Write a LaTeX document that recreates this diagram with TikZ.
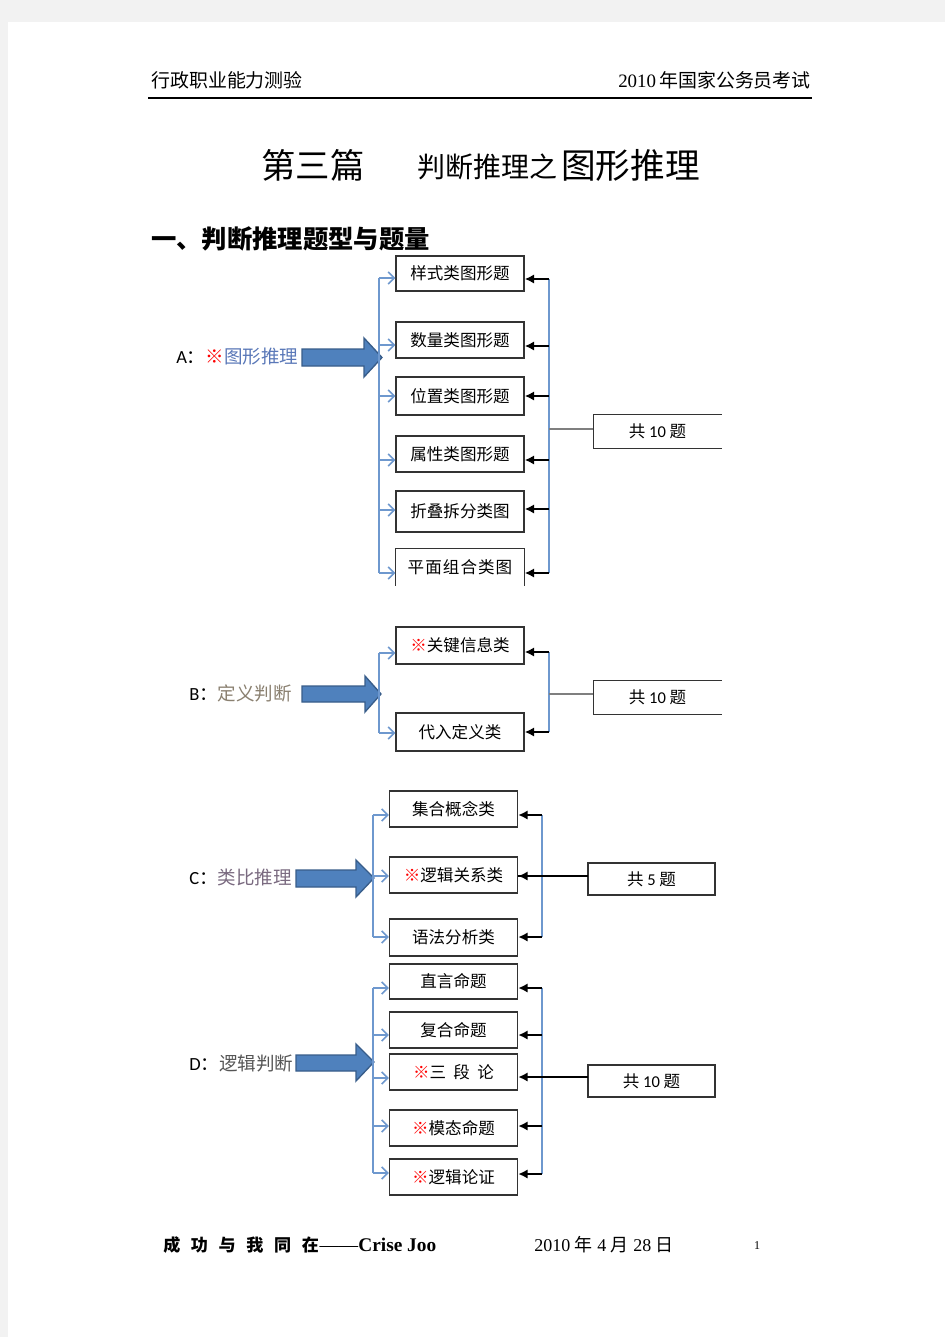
\documentclass[tikz,border=0pt]{standalone}
\usepackage{fontspec}
\setmainfont{Liberation Serif}[BoldFont={Liberation Serif Bold}]
\newfontfamily\cjk{Noto Sans CJK SC}
\newfontfamily\lat{Carlito}
\usetikzlibrary{arrows.meta}
\definecolor{pagegray}{HTML}{F2F2F2}
\definecolor{arrowblue}{HTML}{4F81BD}
\definecolor{arrowdark}{HTML}{385D8A}
\definecolor{blueline}{HTML}{6E98CE}
\definecolor{glinec}{HTML}{7F7F7F}
\definecolor{labA}{HTML}{5A78B8}
\definecolor{labB}{HTML}{8A8070}
\definecolor{labC}{HTML}{7A6A80}
\definecolor{labD}{HTML}{555555}
\newcommand{\mk}{\textcolor{red}{※}}
\tikzset{
  boxst/.style={draw=black!80, line width=1.1pt, inner sep=0pt, minimum width=96pt,
    font=\cjk\fontsize{12.4}{14}\selectfont},
  boxline/.style={draw=black!80, line width=1.1pt},
  barr/.style={draw=blueline, line width=1.1pt, -{Straight Barb[length=4.5pt,width=9pt]}},
  bline/.style={draw=blueline, line width=0.9pt},
  blk/.style={draw=black, line width=1.5pt, -{Latex[length=7pt,width=7pt]}},
  gline/.style={draw=glinec, line width=1.3pt},
  kline/.style={draw=black, line width=1.1pt},
  bigarrow/.style={fill=arrowblue, draw=arrowdark, line width=1pt, line join=miter},
  labst/.style={anchor=west, inner sep=0pt, font=\cjk\fontsize{13.9}{16}\selectfont},
  totst/.style={boxst, minimum width={127*0.75pt}, minimum height={33*0.75pt}},
}
\begin{document}
\begin{tikzpicture}[x=0.75pt,y=-0.75pt]
\useasboundingbox (0,0) rectangle (945,1337);
\fill[pagegray] (0,0) rectangle (945,1337);
\fill[white] (8,22) rectangle (945,1337);

% header
\node[anchor=west, inner sep=0pt, font=\cjk\fontsize{14.2}{16}\selectfont] (hl) at (151,80) {行政职业能力测验};
\node[anchor=east, inner sep=0pt, font=\fontsize{14.2}{16}\selectfont] (hr) at (811,80) {2010\,{\cjk 年国家公务员考试}};
\coordinate (hla) at (148,98);
\coordinate (hlb) at (812,98);
\draw[line width=0.8pt] (hla) -- (hlb);

% title
\node[anchor=west, inner sep=0pt, font=\cjk\fontsize{25.8}{30}\selectfont] (t1) at (261,165) {第三篇};
\node[anchor=west, inner sep=0pt, font=\cjk\fontsize{21}{24}\selectfont] (t2) at (417,167) {判断推理之};
\node[anchor=west, inner sep=0pt, font=\cjk\fontsize{26}{30}\selectfont] (t3) at (561,165) {图形推理};

% section heading
\node[anchor=west, inner sep=0pt, font=\cjk\bfseries\fontsize{19}{22}\selectfont] (sec) at (151,239) {一、判断推理题型与题量};

% ================= A =================
\node[labst] (la) at (176,357) {{\lat A}：\mk\textcolor{labA}{图形推理}};
\draw[bigarrow] (302,349) -- (364,349) -- (364,338) -- (382,357.5) -- (364,377) -- (364,366) -- (302,366) -- cycle;

\node[boxst, minimum height={35*0.75pt}] (a1) at (460,273.5) {样式类图形题};
\node[boxst, minimum height={36*0.75pt}] (a2) at (460,340) {数量类图形题};
\node[boxst, minimum height={38*0.75pt}] (a3) at (460,396) {位置类图形题};
\node[boxst, minimum height={36*0.75pt}] (a4) at (460,454) {属性类图形题};
\node[boxst, minimum height={41*0.75pt}] (a5) at (460,511.5) {折叠拆分类图};
\node[boxst, draw=none, minimum height={36*0.75pt}] (a6) at (460,567) {平\kern0.8pt 面\kern0.8pt 组\kern0.8pt 合\kern0.8pt 类\kern0.8pt 图};
\draw[boxline] (a6.south west) -- (a6.north west) -- (a6.north east) -- (a6.south east);

\coordinate (ba1) at (379,278);
\coordinate (ba2) at (379,345);
\coordinate (ba3) at (379,396);
\coordinate (ba4) at (379,460);
\coordinate (ba5) at (379,510);
\coordinate (ba6) at (379,573);
\draw[bline] (ba1) -- (ba6);
\foreach \i in {1,...,6} { \draw[barr] (ba\i) -- (ba\i -| a\i.west); }

\coordinate (ka1) at (549,279);
\coordinate (ka2) at (549,346);
\coordinate (ka3) at (549,396);
\coordinate (ka4) at (549,460);
\coordinate (ka5) at (549,509);
\coordinate (ka6) at (549,573);
\draw[bline] (ka1) -- (ka6);
\foreach \i in {1,...,6} { \draw[blk] (ka\i) -- (ka\i -| a\i.east); }

\node[totst, draw=none] (ta) at (657.5,431.5) {共 {\lat 10} 题};
\draw[boxline] (ta.north east) -- (ta.north west) -- (ta.south west) -- (ta.south east);
\coordinate (ka0) at (549,429);
\draw[gline] (ka0) -- (ka0 -| ta.west);

% ================= B =================
\node[labst] (lb) at (189,693) {{\lat B}：\textcolor{labB}{定义判断}};
\draw[bigarrow] (302,686) -- (365,686) -- (365,676) -- (381,694) -- (365,712) -- (365,702) -- (302,702) -- cycle;

\node[boxst, minimum height={37*0.75pt}] (b1) at (460,645.5) {\mk 关键信息类};
\node[boxst, minimum height={38*0.75pt}] (b2) at (460,732) {代入定义类};

\coordinate (bb1) at (379,653);
\coordinate (bb2) at (379,733);
\draw[bline] (bb1) -- (bb2);
\foreach \i in {1,2} { \draw[barr] (bb\i) -- (bb\i -| b\i.west); }
\coordinate (kb1) at (549,652);
\coordinate (kb2) at (549,732);
\draw[bline] (kb1) -- (kb2);
\foreach \i in {1,2} { \draw[blk] (kb\i) -- (kb\i -| b\i.east); }

\node[totst, draw=none] (tb) at (657.5,697.5) {共 {\lat 10} 题};
\draw[boxline] (tb.north east) -- (tb.north west) -- (tb.south west) -- (tb.south east);
\coordinate (kb0) at (549,694);
\draw[gline] (kb0) -- (kb0 -| tb.west);

% ================= C =================
\node[labst] (lc) at (189,877) {{\lat C}：\textcolor{labC}{类比推理}};
\draw[bigarrow] (296,870) -- (356,870) -- (356,860) -- (374,878) -- (356,897) -- (356,887) -- (296,887) -- cycle;

\node[boxst, minimum height={36*0.75pt}] (c1) at (453.5,809) {集合概念类};
\node[boxst, minimum height={36*0.75pt}] (c2) at (453.5,875) {\mk 逻辑关系类};
\node[boxst, minimum height={37*0.75pt}] (c3) at (453.5,937.5) {语法分析类};

\coordinate (bc1) at (373,815);
\coordinate (bc2) at (373,876);
\coordinate (bc3) at (373,937);
\draw[bline] (bc1) -- (bc3);
\foreach \i in {1,2,3} { \draw[barr] (bc\i) -- (bc\i -| c\i.west); }
\coordinate (kc1) at (542,815);
\coordinate (kc3) at (542,937);
\draw[bline] (kc1) -- (kc3);
\draw[blk] (kc1) -- (kc1 -| c1.east);
\draw[blk] (kc3) -- (kc3 -| c3.east);

\node[totst, minimum height={32*0.75pt}] (tc) at (651.5,879) {共 {\lat 5} 题};
\coordinate (kc0) at (588,876);
\draw[kline] (kc0) -- (kc0 -| c2.east);
\draw[blk] (kc0 -| kc1) -- (kc0 -| c2.east);

% ================= D =================
\node[labst] (ld) at (189,1063) {{\lat D}：\textcolor{labD}{逻辑判断}};
\draw[bigarrow] (296,1055) -- (356,1055) -- (356,1044) -- (374,1062) -- (356,1081) -- (356,1071) -- (296,1071) -- cycle;

\node[boxst, minimum height={35*0.75pt}] (d1) at (453.5,981.5) {直言命题};
\node[boxst, minimum height={36*0.75pt}] (d2) at (453.5,1030) {复合命题};
\node[boxst, minimum height={36*0.75pt}] (d3) at (453.5,1072) {\mk 三\ \ 段\ \ 论};
\node[boxst, minimum height={36*0.75pt}] (d4) at (453.5,1128) {\mk 模态命题};
\node[boxst, minimum height={36*0.75pt}] (d5) at (453.5,1177) {\mk 逻辑论证};

\coordinate (bd1) at (373,988);
\coordinate (bd2) at (373,1035);
\coordinate (bd3) at (373,1078);
\coordinate (bd4) at (373,1126);
\coordinate (bd5) at (373,1173);
\draw[bline] (bd1) -- (bd5);
\foreach \i in {1,...,5} { \draw[barr] (bd\i) -- (bd\i -| d\i.west); }
\coordinate (kd1) at (542,988);
\coordinate (kd2) at (542,1035);
\coordinate (kd3) at (542,1077);
\coordinate (kd4) at (542,1126);
\coordinate (kd5) at (542,1174);
\draw[bline] (kd1) -- (kd5);
\foreach \i in {1,2,4,5} { \draw[blk] (kd\i) -- (kd\i -| d\i.east); }

\node[totst, minimum height={32*0.75pt}] (td) at (651.5,1081) {共 {\lat 10} 题};
\coordinate (kd0) at (588,1077);
\draw[kline] (kd0) -- (kd3);
\draw[blk] (kd3) -- (kd3 -| d3.east);

% footer
\node[anchor=west, inner sep=0pt, font=\cjk\bfseries\fontsize{12.8}{15}\selectfont] (f1) at (163,1245)
  {成\hspace{8pt}功\hspace{8pt}与\hspace{8pt}我\hspace{8pt}同\hspace{8pt}在};
\node[anchor=west, inner sep=0pt, font=\fontsize{14.5}{16}\selectfont] (f2) at (f1.east) {——\textbf{\fontsize{14.5}{16}\selectfont Crise Joo}};
\node[anchor=west, inner sep=0pt, font=\fontsize{13.5}{15}\selectfont] (f3) at (534,1245)
  {2010 {\cjk 年} 4 {\cjk 月} 28 {\cjk 日}};
\node[inner sep=0pt, font=\fontsize{9}{10}\selectfont] (f4) at (757,1246) {1};
\end{tikzpicture}
\end{document}
